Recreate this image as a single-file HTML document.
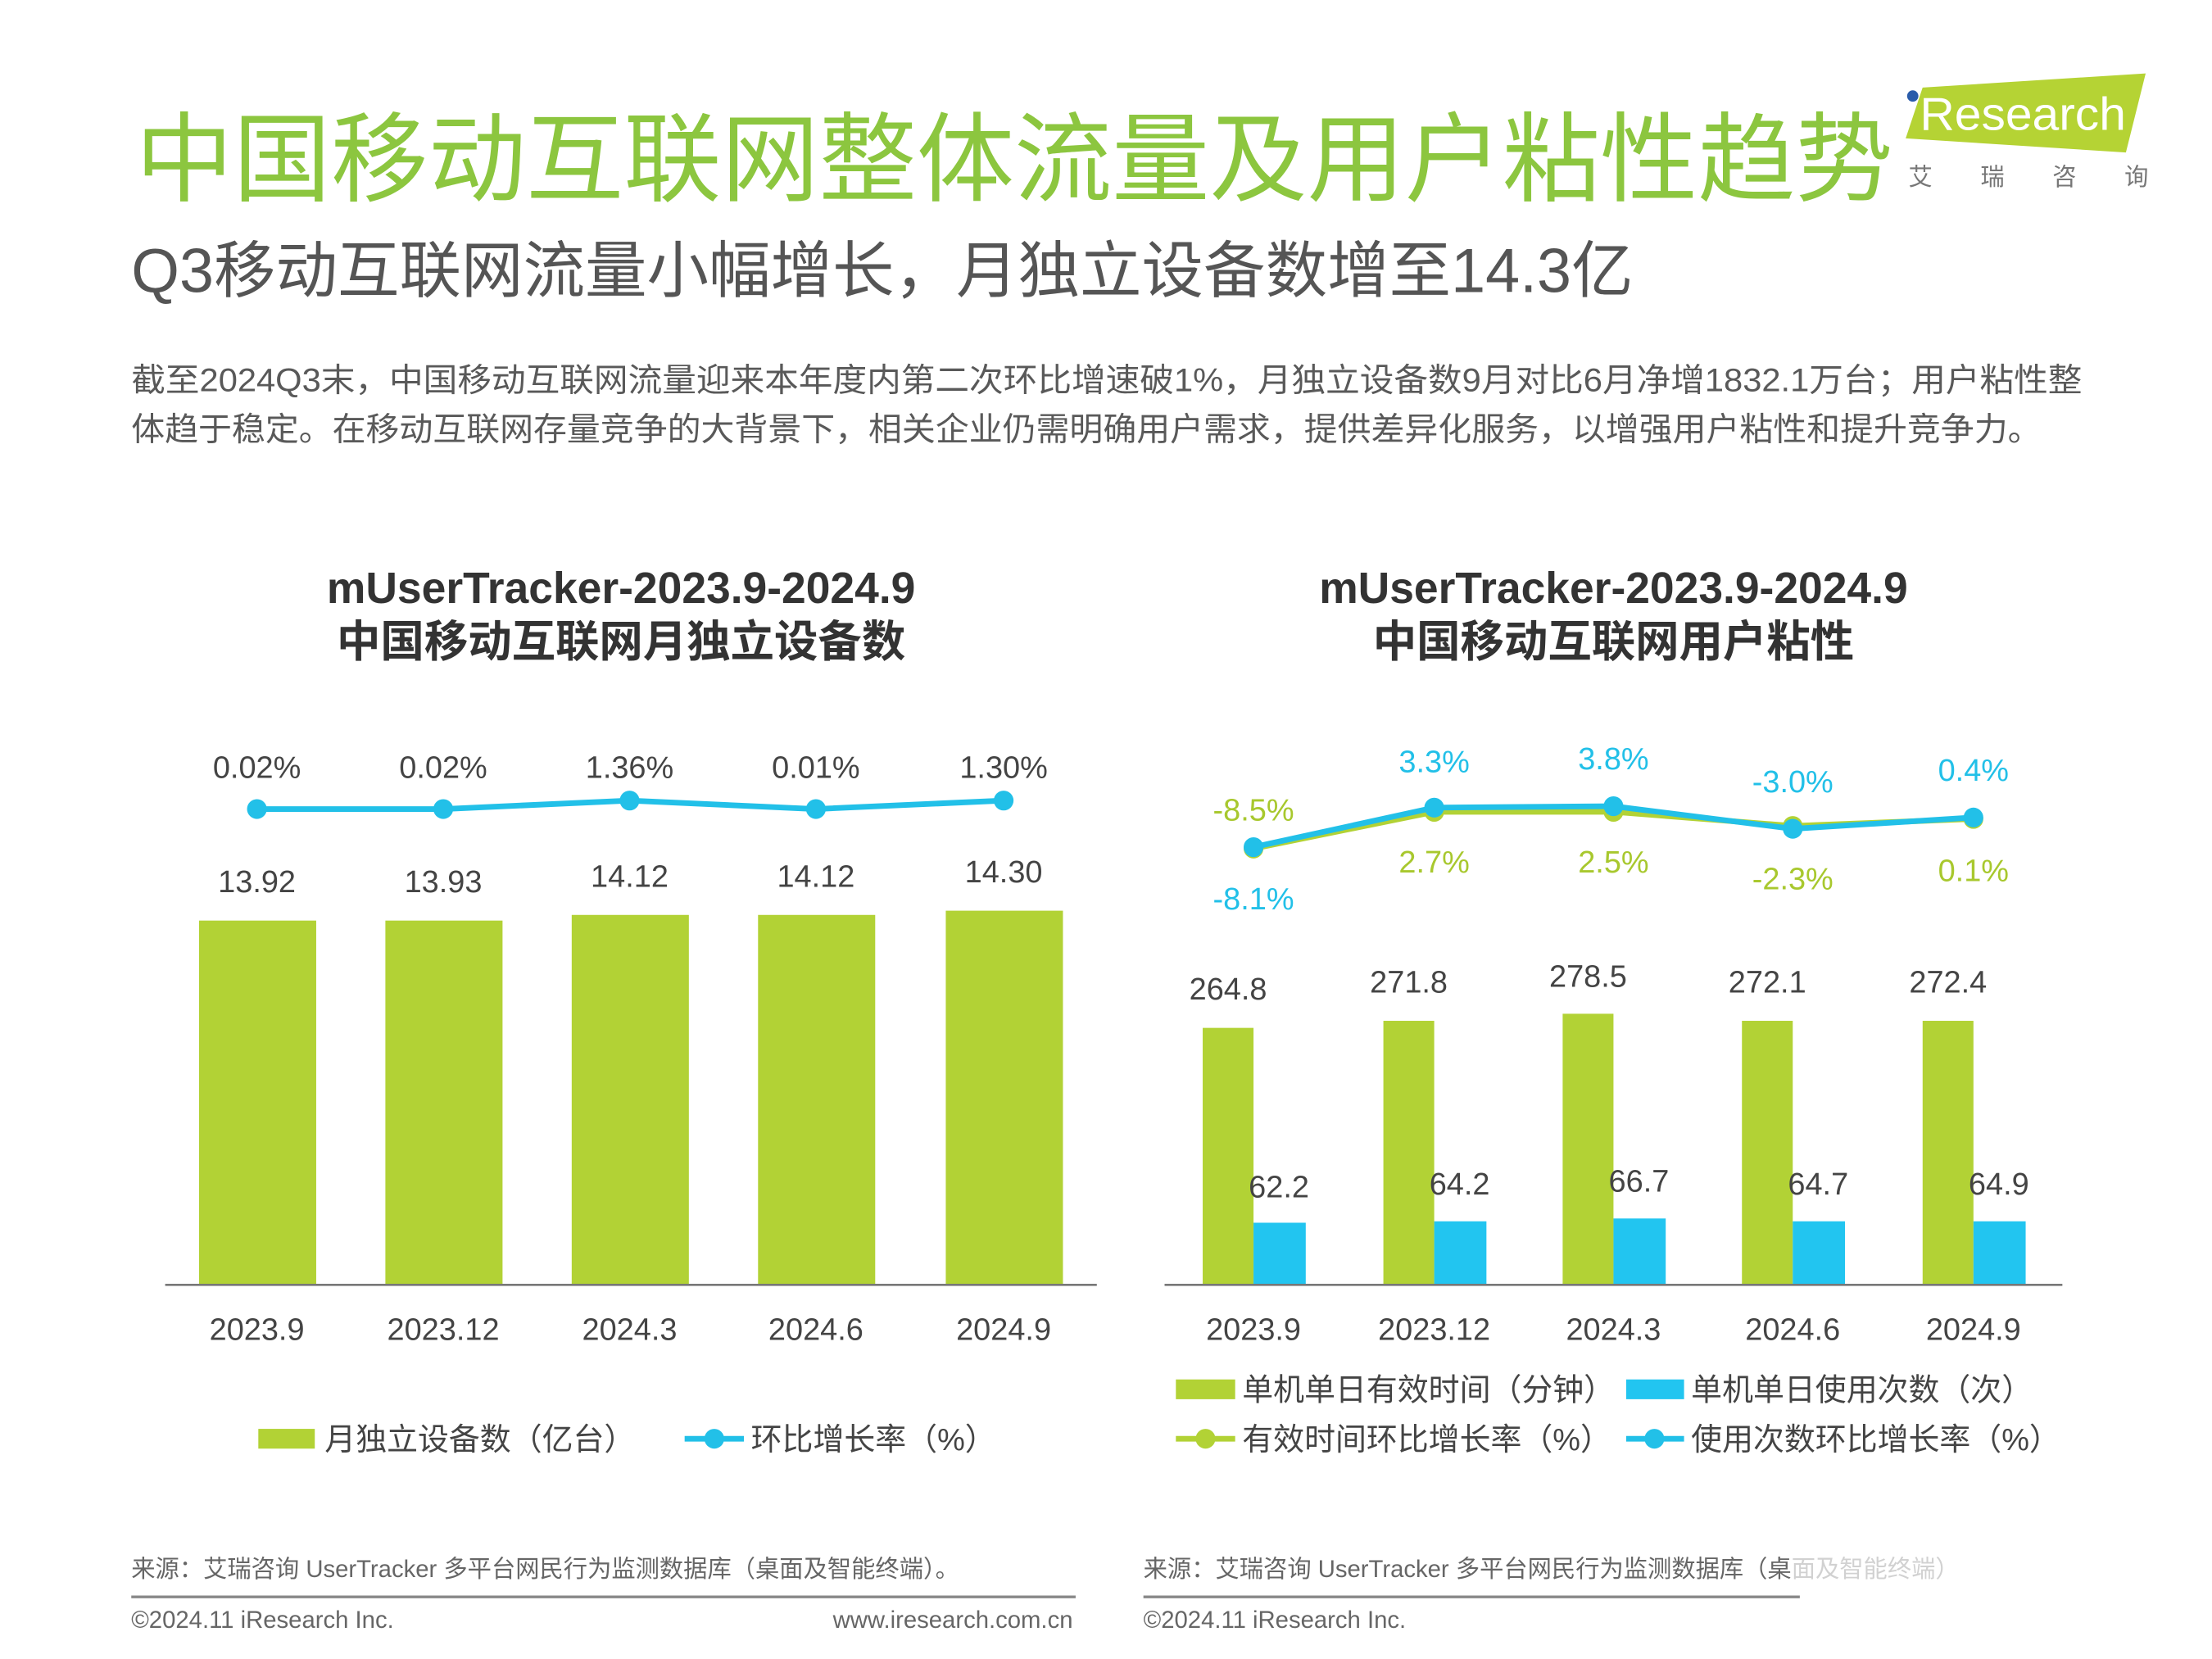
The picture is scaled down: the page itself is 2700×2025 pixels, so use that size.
<!DOCTYPE html>
<html><head><meta charset="utf-8"><style>
html,body{margin:0;padding:0;background:#fff;width:2700px;height:2025px;overflow:hidden}
svg{display:block}
text{font-family:"Liberation Sans","Noto Sans CJK SC",sans-serif}
</style></head><body>
<svg width="2700" height="2025" viewBox="0 0 1567 1175" preserveAspectRatio="none" xmlns="http://www.w3.org/2000/svg">
<rect width="1600" height="1200" fill="#fff"/>
<text x="96" y="137" font-size="69" fill="#8cc63f" textLength="1245" lengthAdjust="spacingAndGlyphs">中国移动互联网整体流量及用户粘性趋势</text>
<polygon points="1362,62 1520,52 1506,108 1350,98" fill="#b5d334"/>
<circle cx="1355" cy="68" r="4" fill="#2a5caa"/>
<text x="1360" y="92" font-size="33" fill="#fff" textLength="146" lengthAdjust="spacingAndGlyphs">Research</text>
<text x="1352" y="131" font-size="17" fill="#777" textLength="170" lengthAdjust="spacing">艾 瑞 咨 询</text>
<text x="93" y="207" font-size="44" fill="#555" textLength="1064" lengthAdjust="spacingAndGlyphs">Q3移动互联网流量小幅增长，月独立设备数增至14.3亿</text>
<text x="93" y="277" font-size="23" fill="#595959" textLength="1382" lengthAdjust="spacingAndGlyphs">截至2024Q3末，中国移动互联网流量迎来本年度内第二次环比增速破1%，月独立设备数9月对比6月净增1832.1万台；用户粘性整</text>
<text x="93" y="312" font-size="23" fill="#595959" textLength="1353" lengthAdjust="spacingAndGlyphs">体趋于稳定。在移动互联网存量竞争的大背景下，相关企业仍需明确用户需求，提供差异化服务，以增强用户粘性和提升竞争力。</text>

<g font-weight="bold" fill="#333" font-size="31" text-anchor="middle">
<text x="440" y="427">mUserTracker-2023.9-2024.9</text>
<text x="440" y="465">中国移动互联网月独立设备数</text>
<text x="1143" y="427">mUserTracker-2023.9-2024.9</text>
<text x="1143" y="465">中国移动互联网用户粘性</text>
</g>

<g fill="#b2d235">
<rect x="141" y="652" width="83" height="258"/>
<rect x="273" y="652" width="83" height="258"/>
<rect x="405" y="648" width="83" height="262"/>
<rect x="537" y="648" width="83" height="262"/>
<rect x="670" y="645" width="83" height="265"/>
</g>
<line x1="117" y1="910" x2="777" y2="910" stroke="#777" stroke-width="1.5"/>
<polyline points="182,573 314,573 446,567 578,573 711,567" fill="none" stroke="#22c0e8" stroke-width="4"/>
<g fill="#22c0e8"><circle cx="182" cy="573" r="7"/><circle cx="314" cy="573" r="7"/><circle cx="446" cy="567" r="7"/><circle cx="578" cy="573" r="7"/><circle cx="711" cy="567" r="7"/></g>
<g font-size="22" fill="#444" text-anchor="middle">
<text x="182" y="551">0.02%</text><text x="314" y="551">0.02%</text><text x="446" y="551">1.36%</text><text x="578" y="551">0.01%</text><text x="711" y="551">1.30%</text>
<text x="182" y="632">13.92</text><text x="314" y="632">13.93</text><text x="446" y="628">14.12</text><text x="578" y="628">14.12</text><text x="711" y="625">14.30</text>
<text x="182" y="949">2023.9</text><text x="314" y="949">2023.12</text><text x="446" y="949">2024.3</text><text x="578" y="949">2024.6</text><text x="711" y="949">2024.9</text>
</g>
<rect x="183" y="1012" width="40" height="14" fill="#b2d235"/>
<text x="230" y="1027" font-size="22" fill="#444">月独立设备数（亿台）</text>
<line x1="485" y1="1019" x2="527" y2="1019" stroke="#22c0e8" stroke-width="4"/><circle cx="506" cy="1019" r="7" fill="#22c0e8"/>
<text x="532" y="1027" font-size="22" fill="#444">环比增长率（%）</text>

<g fill="#b2d235">
<rect x="852" y="728" width="36" height="182"/><rect x="980" y="723" width="36" height="187"/><rect x="1107" y="718" width="36" height="192"/><rect x="1234" y="723" width="36" height="187"/><rect x="1362" y="723" width="36" height="187"/>
</g>
<g fill="#22c5f0">
<rect x="888" y="866" width="37" height="44"/><rect x="1016" y="865" width="37" height="45"/><rect x="1143" y="863" width="37" height="47"/><rect x="1270" y="865" width="37" height="45"/><rect x="1398" y="865" width="37" height="45"/>
</g>
<line x1="825" y1="910" x2="1461" y2="910" stroke="#777" stroke-width="1.5"/>
<polyline points="888,601 1016,575 1143,575 1270,585 1398,580" fill="none" stroke="#b2d235" stroke-width="4"/>
<g fill="#b2d235"><circle cx="888" cy="601" r="7"/><circle cx="1016" cy="575" r="7"/><circle cx="1143" cy="575" r="7"/><circle cx="1270" cy="585" r="7"/><circle cx="1398" cy="580" r="7"/></g>
<polyline points="888,600 1016,572 1143,571 1270,587 1398,579" fill="none" stroke="#22c0e8" stroke-width="4"/>
<g fill="#22c0e8"><circle cx="888" cy="600" r="7"/><circle cx="1016" cy="572" r="7"/><circle cx="1143" cy="571" r="7"/><circle cx="1270" cy="587" r="7"/><circle cx="1398" cy="579" r="7"/></g>
<g font-size="22" text-anchor="middle" fill="#22c0e8">
<text x="1016" y="547">3.3%</text><text x="1143" y="545">3.8%</text><text x="1270" y="561">-3.0%</text><text x="1398" y="553">0.4%</text><text x="888" y="644">-8.1%</text>
</g>
<g font-size="22" text-anchor="middle" fill="#a8c82e">
<text x="888" y="581">-8.5%</text><text x="1016" y="618">2.7%</text><text x="1143" y="618">2.5%</text><text x="1270" y="630">-2.3%</text><text x="1398" y="624">0.1%</text>
</g>
<g font-size="22" text-anchor="middle" fill="#444">
<text x="870" y="708">264.8</text><text x="998" y="703">271.8</text><text x="1125" y="699">278.5</text><text x="1252" y="703">272.1</text><text x="1380" y="703">272.4</text>
<text x="906" y="848">62.2</text><text x="1034" y="846">64.2</text><text x="1161" y="844">66.7</text><text x="1288" y="846">64.7</text><text x="1416" y="846">64.9</text>
<text x="888" y="949">2023.9</text><text x="1016" y="949">2023.12</text><text x="1143" y="949">2024.3</text><text x="1270" y="949">2024.6</text><text x="1398" y="949">2024.9</text>
</g>
<rect x="833" y="977" width="42" height="14" fill="#b2d235"/>
<text x="880" y="992" font-size="22" fill="#444">单机单日有效时间（分钟）</text>
<rect x="1152" y="977" width="41" height="14" fill="#22c5f0"/>
<text x="1198" y="992" font-size="22" fill="#444">单机单日使用次数（次）</text>
<line x1="833" y1="1019" x2="875" y2="1019" stroke="#b2d235" stroke-width="4"/><circle cx="854" cy="1019" r="7" fill="#b2d235"/>
<text x="880" y="1027" font-size="22" fill="#444">有效时间环比增长率（%）</text>
<line x1="1152" y1="1019" x2="1193" y2="1019" stroke="#22c0e8" stroke-width="4"/><circle cx="1172" cy="1019" r="7" fill="#22c0e8"/>
<text x="1198" y="1027" font-size="22" fill="#444">使用次数环比增长率（%）</text>

<g font-size="17" fill="#666">
<text x="93" y="1117">来源：艾瑞咨询 UserTracker 多平台网民行为监测数据库（桌面及智能终端）。</text>
<text x="93" y="1153">©2024.11 iResearch Inc.</text>
<text x="760" y="1153" text-anchor="end">www.iresearch.com.cn</text>
<text x="810" y="1117">来源：艾瑞咨询 UserTracker 多平台网民行为监测数据库（桌面及智能终端）</text>
<text x="810" y="1153">©2024.11 iResearch Inc.</text>
</g>
<rect x="1270" y="1095" width="140" height="40" fill="#fff" opacity="0.7"/>
<line x1="93" y1="1131" x2="762" y2="1131" stroke="#888" stroke-width="2"/>
<line x1="810" y1="1131" x2="1275" y2="1131" stroke="#888" stroke-width="2"/>
</svg>
</body></html>
